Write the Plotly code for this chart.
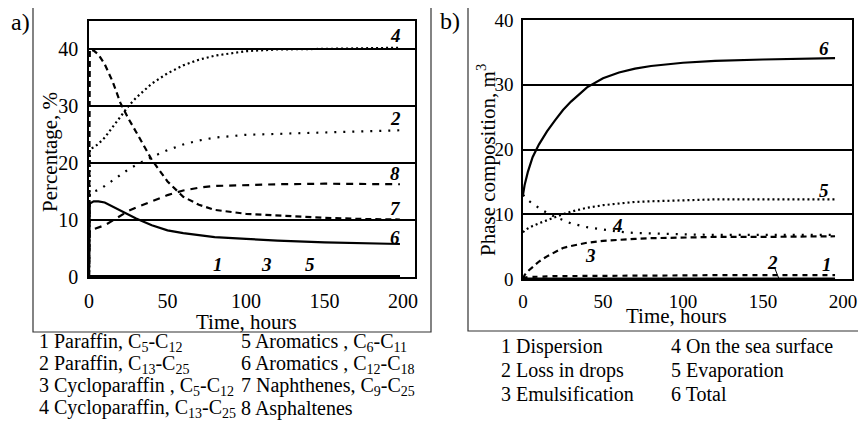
import plotly.graph_objects as go

# ---------------- data: panel a (percentage of oil fractions) ----------------
t_a = [0, 0.5, 3, 6, 10, 15, 20, 25, 30, 40, 50, 60, 70, 80, 100, 120, 150, 175, 198]
a_c1 = [0, 0.15, 0.15, 0.15, 0.15, 0.15, 0.15, 0.15, 0.15, 0.15, 0.15, 0.15, 0.15, 0.15, 0.15, 0.15, 0.15, 0.15, 0.15]
a_c2 = [0, 14.8, 15.0, 15.3, 16.0, 17.0, 18.0, 18.9, 19.7, 21.1, 22.3, 23.3, 24.0, 24.5, 25.0, 25.2, 25.4, 25.6, 25.8]
a_c3 = [0, 0.1, 0.1, 0.1, 0.1, 0.1, 0.1, 0.1, 0.1, 0.1, 0.1, 0.1, 0.1, 0.1, 0.1, 0.1, 0.1, 0.1, 0.1]
a_c4 = [0, 22.5, 22.8, 23.4, 24.5, 26.3, 28.3, 30.0, 31.5, 34.0, 35.8, 37.2, 38.2, 38.9, 39.7, 40.0, 40.1, 40.2, 40.3]
a_c5 = [0, 0.1, 0.1, 0.1, 0.1, 0.1, 0.1, 0.1, 0.1, 0.1, 0.1, 0.1, 0.1, 0.1, 0.1, 0.1, 0.1, 0.1, 0.1]
a_c6 = [0, 12.9, 13.3, 13.3, 13.1, 12.4, 11.8, 11.0, 10.3, 9.1, 8.2, 7.7, 7.3, 7.0, 6.7, 6.4, 6.1, 5.9, 5.8]
a_c7 = [0, 40.0, 39.8, 39.1, 37.4, 34.4, 30.6, 27.9, 25.5, 20.6, 16.8, 14.1, 12.7, 11.8, 11.1, 10.8, 10.4, 10.2, 10.1]
a_c8 = [0, 8.2, 8.4, 8.7, 9.1, 9.9, 10.8, 11.6, 12.2, 13.3, 14.4, 15.2, 15.7, 16.0, 16.2, 16.3, 16.4, 16.4, 16.3]

# ---------------- data: panel b (phase composition) ----------------
t_b = [0, 1, 3, 6, 10, 15, 20, 25, 30, 40, 50, 60, 70, 80, 100, 120, 150, 175, 195]
b_c1 = [0, 0.2, 0.3, 0.35, 0.4, 0.4, 0.45, 0.45, 0.5, 0.5, 0.5, 0.55, 0.55, 0.55, 0.55, 0.6, 0.6, 0.6, 0.6]
b_c2 = [0, 0.05, 0.05, 0.05, 0.05, 0.05, 0.05, 0.05, 0.05, 0.05, 0.05, 0.05, 0.05, 0.05, 0.05, 0.05, 0.05, 0.05, 0.05]
b_c3 = [0, 0.6, 1.2, 1.9, 2.7, 3.5, 4.2, 4.8, 5.1, 5.6, 5.9, 6.1, 6.2, 6.3, 6.4, 6.5, 6.5, 6.5, 6.6]
b_c4 = [13.0, 12.7, 12.2, 11.6, 11.0, 10.2, 9.6, 9.1, 8.6, 8.0, 7.6, 7.3, 7.1, 7.0, 6.9, 6.8, 6.8, 6.8, 6.8]
b_c5 = [7.2, 7.5, 7.8, 8.2, 8.6, 9.1, 9.6, 10.0, 10.4, 11.0, 11.4, 11.7, 11.9, 12.0, 12.2, 12.3, 12.3, 12.3, 12.3]
b_c6 = [13.0, 14.5, 16.5, 18.8, 20.8, 22.8, 24.5, 26.1, 27.4, 29.6, 31.0, 31.9, 32.5, 32.9, 33.4, 33.7, 33.9, 34.0, 34.1]

x_ticks = [0, 50, 100, 150, 200]
ya_ticks = [0, 10, 20, 30, 40]
yb_ticks = [0, 10, 20, 30, 40]

legend_a_left = ["1 Paraffin, C<sub>5</sub>-C<sub>12</sub>",
                 "2 Paraffin, C<sub>13</sub>-C<sub>25</sub>",
                 "3 Cycloparaffin , C<sub>5</sub>-C<sub>12</sub>",
                 "4 Cycloparaffin, C<sub>13</sub>-C<sub>25</sub>"]
legend_a_right = ["5 Aromatics , C<sub>6</sub>-C<sub>11</sub>",
                  "6 Aromatics , C<sub>12</sub>-C<sub>18</sub>",
                  "7 Naphthenes, C<sub>9</sub>-C<sub>25</sub>",
                  "8 Asphaltenes"]
legend_b_left = ["1 Dispersion", "2 Loss in drops", "3 Emulsification"]
legend_b_right = ["4 On the sea surface", "5 Evaporation", "6 Total"]

# page is 866x444 with the default 8px body margin around the figure
OFF = 8
W, H = 866 - 2 * OFF, 444 - 2 * OFF
FONT = "Liberation Serif, Times New Roman, serif"

def px(x):
    return (x - OFF) / W

def py(y):
    return 1 - (y - OFF) / H

fig = go.Figure()

def add(x, y, xa, ya, dash, width=2):
    fig.add_trace(go.Scatter(x=x, y=y, xaxis=xa, yaxis=ya, mode="lines",
                             line=dict(color="black", width=width, dash=dash),
                             showlegend=False, hoverinfo="skip"))

# panel a
add(t_a, a_c1, "x", "y", "solid", 2.5)
add(t_a, a_c3, "x", "y", "solid", 2.5)
add(t_a, a_c5, "x", "y", "solid", 2.5)
add(t_a, a_c2, "x", "y", "2px,7px", 2.2)
add(t_a, a_c4, "x", "y", "2px,3px", 2.2)
add(t_a, a_c6, "x", "y", "solid", 2.2)
add(t_a, a_c7, "x", "y", "6px,4px", 2.2)
add(t_a, a_c8, "x", "y", "7px,6px", 2.2)

# panel b
add(t_b, b_c2, "x2", "y2", "solid", 2.5)
add(t_b, b_c1, "x2", "y2", "5px,5px", 2.2)
add(t_b, b_c3, "x2", "y2", "6px,4px", 2.2)
add(t_b, b_c4, "x2", "y2", "2px,7px", 2.2)
add(t_b, b_c5, "x2", "y2", "2px,3px", 2.2)
add(t_b, b_c6, "x2", "y2", "solid", 2.2)

axis_common = dict(showline=True, mirror=True, linecolor="black", linewidth=1.5,
                   ticks="", zeroline=False, automargin=False,
                   ticklabeloverflow="allow",
                   tickfont=dict(family=FONT, size=20, color="black"))

fig.update_layout(
    width=W, height=H, autosize=False,
    margin=dict(l=0, r=0, t=0, b=0),
    paper_bgcolor="white", plot_bgcolor="white",
    xaxis=dict(domain=[px(89), px(415)], range=[0, 207.6], tickvals=x_ticks,
               showgrid=False, anchor="y", ticklabelstandoff=5, **axis_common),
    yaxis=dict(domain=[py(277), py(21)], range=[0, 45], tickvals=ya_ticks,
               showgrid=True, gridcolor="black", gridwidth=1.5, anchor="x",
               ticklabelstandoff=5, **axis_common),
    xaxis2=dict(domain=[px(523), px(852)], range=[0, 205.6], tickvals=x_ticks,
                showgrid=False, anchor="y2", ticklabelstandoff=4, **axis_common),
    yaxis2=dict(domain=[py(279), py(20)], range=[0, 40], tickvals=yb_ticks,
                showgrid=True, gridcolor="black", gridwidth=1.5, anchor="x2",
                ticklabelstandoff=4, **axis_common),
)
fig.update_yaxes(tickfont_size=19, selector=dict(anchor="x2"))
fig.update_xaxes(tickfont_size=19, selector=dict(anchor="y2"))

shapes = [
    dict(type="rect", xref="paper", yref="paper", x0=px(33), x1=px(431), y0=py(332), y1=py(5),
         line=dict(color="#333", width=1.2)),
    dict(type="rect", xref="paper", yref="paper", x0=px(468), x1=px(880), y0=py(331), y1=py(5),
         line=dict(color="#333", width=1.2)),
    dict(type="line", xref="x2", yref="y2", x0=157.3, y0=1.7, x1=160, y1=0,
         line=dict(color="black", width=1)),
]
fig.update_layout(shapes=shapes)

ann = []
def text(x, y, s, size=19, xanchor="center", yanchor="middle", textangle=0, xref="paper", yref="paper",
         bold=False, italic=False):
    if italic:
        s = "<i>" + s + "</i>"
    if bold:
        s = "<b>" + s + "</b>"
    ann.append(dict(x=x, y=y, xref=xref, yref=yref, text=s, showarrow=False,
                    xanchor=xanchor, yanchor=yanchor, textangle=textangle,
                    font=dict(family=FONT, size=size, color="black")))

text(px(9), py(22), "a)", size=24, xanchor="left")
text(px(450), py(21), "b)", size=24)
text(px(50), py(152), "Percentage, %", size=21, textangle=-90)
text(px(486), py(160), "Phase composition, m<sup>3</sup>", size=21, textangle=-90)
text(px(246), py(322), "Time, hours", size=21)
text(px(676), py(316), "Time, hours", size=21)

for i, s in enumerate(legend_a_left):
    text(px(37), py(342 + i * 22), s, size=20, xanchor="left")
for i, s in enumerate(legend_a_right):
    text(px(239), py(342 + i * 22), s, size=20, xanchor="left")
for i, s in enumerate(legend_b_left):
    text(px(499), py(346 + i * 24), s, size=20, xanchor="left")
for i, s in enumerate(legend_b_right):
    text(px(669), py(346 + i * 24), s, size=20, xanchor="left")

# curve labels panel a
for lab, xx, yy in [("4", 195, 42.5), ("2", 195, 27.9), ("8", 195, 18.2), ("7", 195, 12.1),
                    ("6", 195, 7.0), ("1", 82, 2.2), ("3", 113, 2.2), ("5", 141, 2.2)]:
    text(xx, yy, lab, size=19, xref="x", yref="y", bold=True, italic=True)
# curve labels panel b
for lab, xx, yy in [("6", 188, 35.6), ("5", 188, 13.7), ("4", 58.8, 8.2), ("3", 42.4, 3.7),
                    ("2", 156, 2.5), ("1", 190, 2.3)]:
    text(xx, yy, lab, size=19, xref="x2", yref="y2", bold=True, italic=True)

fig.update_layout(annotations=ann)

fig.write_html("out.html")
